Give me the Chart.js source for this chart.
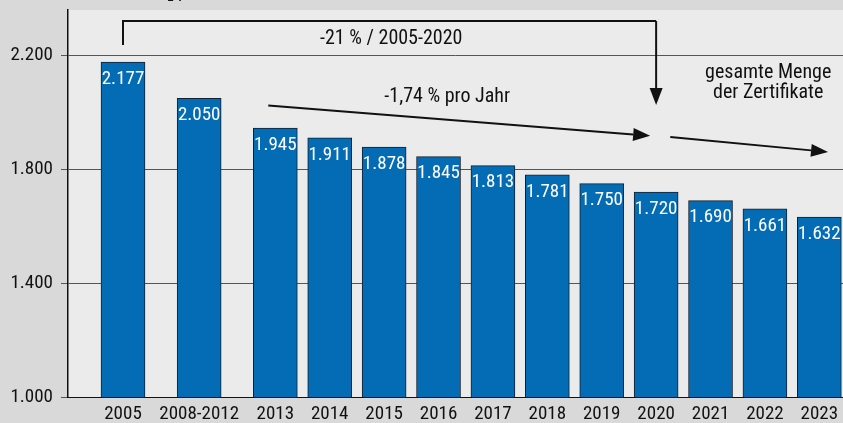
<!DOCTYPE html>
<html>
<head>
<meta charset="utf-8">
<script src="https://cdn.jsdelivr.net/npm/chart.js@4"></script>
<style>
  html, body { margin: 0; padding: 0; background: #d9d9d9; }
  canvas { display: block; }
</style>
</head>
<body>
<canvas id="chart" width="843" height="423"></canvas>
<script>
// Zertifikate, Mio. t CO2 pro Jahr
var categories = ['2005', '2008-2012', '2013', '2014', '2015', '2016', '2017', '2018', '2019', '2020', '2021', '2022', '2023'];
var allowances = [2177, 2050, 1945, 1911, 1878, 1845, 1813, 1781, 1750, 1720, 1690, 1661, 1632];
var yTicks = [1000, 1400, 1800, 2200];

var FONT = '"Roboto Condensed", "Liberation Sans Narrow", sans-serif';

// first two periods sit a bit further apart than the single years
var slot = function(i) { return i <= 2 ? i * 1.4 : 2.8 + (i - 2); };
var slots = categories.map(function(c, i) { return slot(i); });

var fmt = function(v) { return v.toLocaleString('de-DE'); };

var noPad = function(scale) {
    scale.paddingTop = 0;
    scale.paddingBottom = 0;
    scale.paddingLeft = 0;
    scale.paddingRight = 0;
};

var background = {
    id: 'background',
    beforeDraw: function(chart) {
        var ctx = chart.ctx, a = chart.chartArea;
        ctx.save();
        ctx.fillStyle = '#d9d9d9';
        ctx.fillRect(0, 0, chart.width, chart.height);
        ctx.fillStyle = '#ebebeb';
        ctx.fillRect(a.left, a.top, a.right - a.left, a.bottom - a.top);
        ctx.restore();
    }
};

var barLabels = {
    id: 'barLabels',
    afterDatasetsDraw: function(chart) {
        var ctx = chart.ctx;
        var meta = chart.getDatasetMeta(0);
        ctx.save();
        ctx.font = '19px ' + FONT;
        ctx.fillStyle = '#ffffff';
        ctx.textAlign = 'center';
        ctx.textBaseline = 'middle';
        meta.data.forEach(function(bar, i) {
            ctx.fillText(fmt(allowances[i]), bar.x, bar.y + 17);
        });
        ctx.restore();
    }
};

function arrow(ctx, x1, y1, x2, y2) {
    var ang = Math.atan2(y2 - y1, x2 - x1);
    var len = 17, half = 6.5;
    var bx = x2 - Math.cos(ang) * len, by = y2 - Math.sin(ang) * len;
    ctx.beginPath();
    ctx.moveTo(x1, y1);
    ctx.lineTo(bx, by);
    ctx.stroke();
    ctx.beginPath();
    ctx.moveTo(x2, y2);
    ctx.lineTo(bx + Math.sin(ang) * half, by - Math.cos(ang) * half);
    ctx.lineTo(bx - Math.sin(ang) * half, by + Math.cos(ang) * half);
    ctx.closePath();
    ctx.fill();
}

var notes = {
    id: 'notes',
    afterDraw: function(chart) {
        var ctx = chart.ctx;
        var xs = chart.scales.x, ys = chart.scales.y;
        var px = function(v) { return xs.getPixelForValue(v); };
        var py = function(v) { return ys.getPixelForValue(v); };
        ctx.save();
        ctx.strokeStyle = '#111';
        ctx.fillStyle = '#111';
        ctx.lineWidth = 2;

        // bracket 2005 -> 2020
        var xa = px(slots[0]), xb = px(slots[9]);
        ctx.beginPath();
        ctx.moveTo(xa, py(2237));
        ctx.lineTo(xa, py(2321));
        ctx.lineTo(xb, py(2321));
        ctx.stroke();
        arrow(ctx, xb, py(2321), xb, py(2026));

        // yearly decline arrows
        arrow(ctx, px(2.67), py(2024), px(9.69), py(1918));
        arrow(ctx, px(10.06), py(1914), px(12.96), py(1861));

        ctx.font = '20px ' + FONT;
        ctx.textAlign = 'center';
        ctx.textBaseline = 'middle';
        ctx.fillText('-21 % / 2005-2020', px(4.93), py(2258));
        ctx.fillText('-1,74 % pro Jahr', px(5.96), py(2054));
        ctx.fillText('gesamte Menge', px(11.86), py(2138));
        ctx.fillText('der Zertifikate', px(11.86), py(2068));

        // unit line, cut off at the top edge
        ctx.textAlign = 'left';
        ctx.textBaseline = 'alphabetic';
        ctx.font = '19px ' + FONT;
        var t1 = 'Millionen t CO';
        ctx.fillText(t1, 62, -3);
        var w1 = ctx.measureText(t1).width;
        ctx.font = '13px ' + FONT;
        ctx.fillText('2', 62 + w1, 1);
        var w2 = ctx.measureText('2').width;
        ctx.font = '19px ' + FONT;
        ctx.fillText(' pro Jahr', 62 + w1 + w2, -3);
        ctx.restore();
    }
};

new Chart(document.getElementById('chart').getContext('2d'), {
    type: 'bar',
    data: {
        datasets: [{
            label: 'Zertifikate',
            data: allowances.map(function(v, i) { return { x: slots[i], y: v }; }),
            backgroundColor: '#036cb4',
            borderColor: '#15202e',
            borderWidth: 1,
            barThickness: 44
        }]
    },
    plugins: [background, barLabels, notes],
    options: {
        responsive: false,
        animation: false,
        layout: { padding: { top: 10, right: 0, left: 0, bottom: 0 } },
        plugins: {
            legend: { display: false },
            tooltip: { enabled: false }
        },
        scales: {
            x: {
                type: 'linear',
                min: -1.011,
                max: 13.235,
                offset: false,
                grid: { display: false, drawTicks: false, offset: false },
                border: { display: true, color: '#111', width: 1 },
                afterBuildTicks: function(scale) {
                    scale.ticks = slots.map(function(v) { return { value: v }; });
                },
                afterFit: function(scale) { scale.height = 26; noPad(scale); },
                ticks: {
                    autoSkip: false,
                    maxRotation: 0,
                    padding: 6,
                    color: '#111',
                    font: { family: FONT, size: 19 },
                    callback: function(v, i) { return categories[i]; }
                }
            },
            y: {
                min: 1000,
                max: 2360,
                afterBuildTicks: function(scale) {
                    scale.ticks = yTicks.map(function(v) { return { value: v }; });
                },
                afterFit: function(scale) { scale.width = 68; noPad(scale); },
                grid: { color: '#555', lineWidth: 1, tickLength: 7 },
                border: { display: true, color: '#111', width: 1.5 },
                ticks: {
                    padding: 8,
                    color: '#111',
                    font: { family: FONT, size: 19 },
                    callback: function(v) { return fmt(v); }
                }
            }
        }
    }
});
</script>
</body>
</html>
